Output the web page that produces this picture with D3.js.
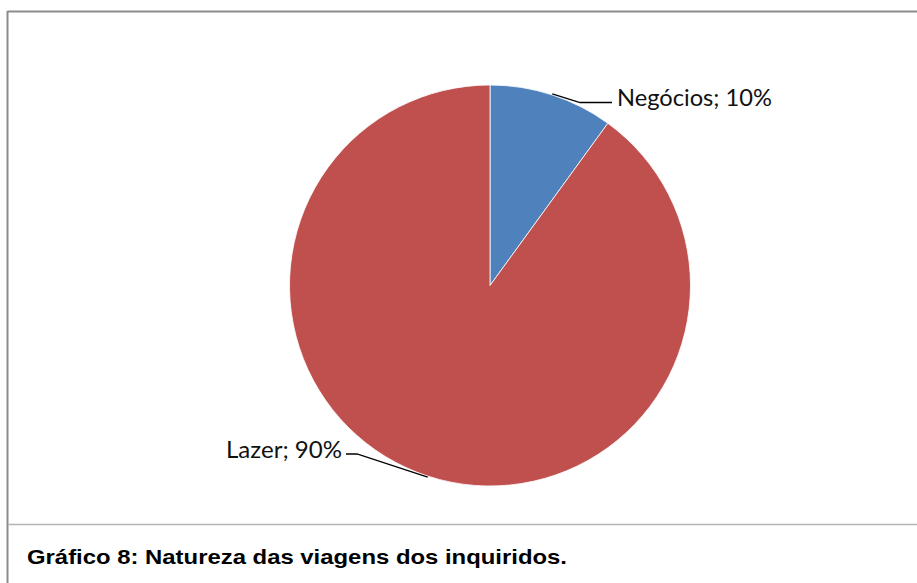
<!DOCTYPE html>
<html>
<head>
<meta charset="utf-8">
<script src="https://cdn.jsdelivr.net/npm/d3@7"></script>
<style>
  body { margin: 0; background: #fff; }
  svg { display: block; }
</style>
</head>
<body>
<div id="chart"></div>
<script>
var categories = ["Negócios", "Lazer"];
var values = [10, 90];
var colors = ["#4F81BD", "#C0504D"];
var caption = "Gráfico 8: Natureza das viagens dos inquiridos.";

var width = 917;
var height = 583;
var cx = 490, cy = 285.5;
var radius = 200.5;

var svg = d3.select("#chart")
  .append("svg")
  .attr("width", width)
  .attr("height", height);

// frame
svg.append("line").attr("x1", 7.5).attr("x2", width).attr("y1", 11.5).attr("y2", 11.5)
  .attr("stroke", "#8c8c8c").attr("stroke-width", 2);
svg.append("line").attr("x1", 7.5).attr("x2", 7.5).attr("y1", 11).attr("y2", height)
  .attr("stroke", "#8c8c8c").attr("stroke-width", 2);
svg.append("line").attr("x1", 8).attr("x2", width).attr("y1", 524.5).attr("y2", 524.5)
  .attr("stroke", "#b4b4b4").attr("stroke-width", 1.5);

var data = categories.map(function(c, i) { return { key: c, value: values[i], color: colors[i] }; });

var pie = d3.pie().sort(null).value(function(d) { return d.value; });
var arc = d3.arc().innerRadius(0).outerRadius(radius);
var arcs = pie(data);

var g = svg.append("g").attr("transform", "translate(" + cx + "," + cy + ")");

g.selectAll("path")
  .data(arcs)
  .enter().append("path")
  .attr("d", arc)
  .attr("fill", function(d) { return d.data.color; })
  .attr("stroke", "#fff")
  .attr("stroke-width", 0.8);

// leader lines + labels
var labelCfg = [
  { elbow: [90, -183], end: [122, -183], anchor: "start", tx: 127, ty: -188, len: 155 },
  { elbow: [-133, 168.5], end: [-144, 168.5], anchor: "end", tx: -148, ty: 164.5, len: 116 }
];

arcs.forEach(function(d, i) {
  var mid = (d.startAngle + d.endAngle) / 2;
  var r0 = radius + 1;
  var p0 = [r0 * Math.sin(mid), -r0 * Math.cos(mid)];
  var c = labelCfg[i];
  g.append("path")
    .attr("d", d3.line()([p0, c.elbow, c.end]))
    .attr("fill", "none")
    .attr("stroke", "#000")
    .attr("stroke-width", 1.3);
  g.append("text")
    .attr("x", c.tx)
    .attr("y", c.ty)
    .attr("dy", "0.35em")
    .attr("text-anchor", c.anchor)
    .attr("font-family", "Lato, 'Open Sans', sans-serif")
    .attr("font-size", 23)
    .attr("textLength", c.len)
    .attr("lengthAdjust", "spacingAndGlyphs")
    .attr("fill", "#111")
    .text(d.data.key + "; " + d.data.value + "%");
});

svg.append("text")
  .attr("x", 27)
  .attr("y", 564)
  .attr("font-family", "'Liberation Sans Narrow', 'Liberation Sans', Arial, sans-serif")
  .attr("font-weight", "bold")
  .attr("font-size", 21)
  .attr("textLength", 540)
  .attr("lengthAdjust", "spacingAndGlyphs")
  .attr("fill", "#000")
  .text(caption);
</script>
</body>
</html>
